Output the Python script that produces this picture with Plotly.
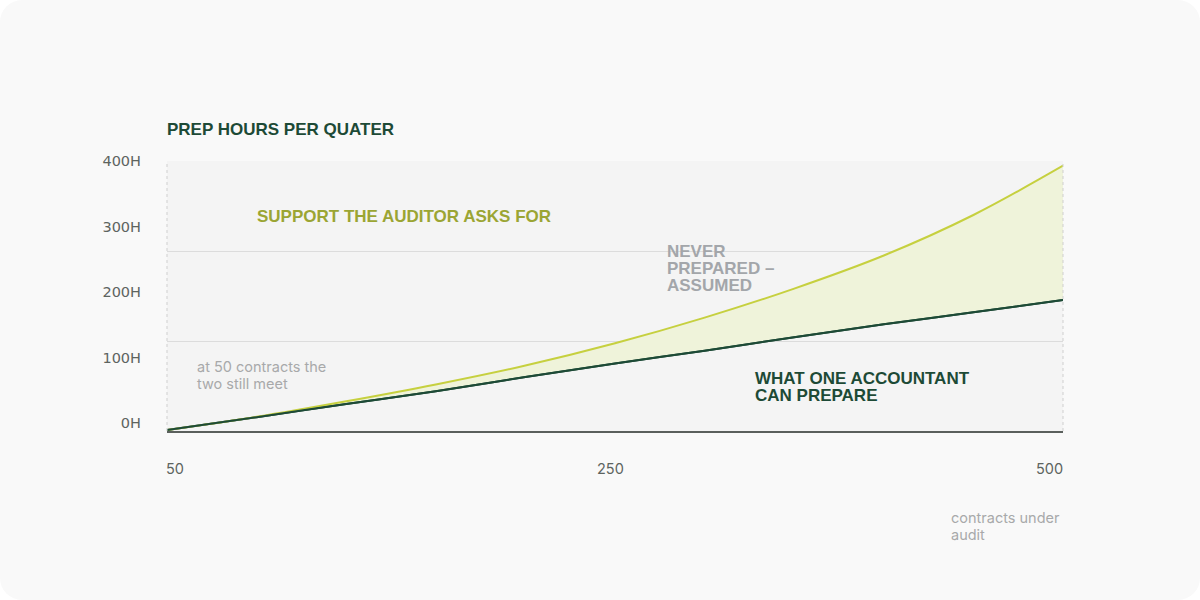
import plotly.graph_objects as go

# x positions are evenly spaced steps across the contract range
steps = list(range(11))
contract_ticks = {0: "50", 5: "250", 10: "500"}

# hours per quarter
auditor_asks = [1.5, 21, 44, 69, 97, 130, 168, 211, 260, 320, 393]
one_accountant = [1.5, 20.5, 40, 59, 80, 100, 119, 139, 158, 176, 194]

hour_ticks = [0, 100, 200, 300, 400]

GREEN = "#1d4a36"
YELLOW = "#c6d03f"
OLIVE = "#9ba533"
GREY = "#a3a6aa"
SOFT = "#a8a9aa"
FONT = "Inter"
BOLD = "Liberation Sans"

fig = go.Figure()

fig.add_trace(go.Scatter(x=steps, y=one_accountant, mode="lines",
                         line=dict(color=GREEN, width=2, shape="spline"),
                         hoverinfo="skip"))
fig.add_trace(go.Scatter(x=steps, y=auditor_asks, mode="lines", fill="tonexty",
                         fillcolor="#eff3da",
                         line=dict(color=YELLOW, width=2, shape="spline"),
                         hoverinfo="skip"))
# green line again so it sits over the fill
fig.add_trace(go.Scatter(x=steps, y=one_accountant, mode="lines",
                         line=dict(color=GREEN, width=2, shape="spline"),
                         hoverinfo="skip"))

# tick labels live on an overlay axis so they can sit apart from the grid
fig.add_trace(go.Scatter(x=steps, y=one_accountant, yaxis="y2", mode="lines",
                         line=dict(width=0), hoverinfo="skip", showlegend=False))

fig.update_layout(
    width=1200, height=600,
    margin=dict(l=167, r=137, t=161, b=169),
    paper_bgcolor="#f9f9f9",
    plot_bgcolor="#f4f4f4",
    showlegend=False,
    xaxis=dict(range=[steps[0], steps[-1]], showgrid=False, zeroline=False,
               showticklabels=False, ticks="", showline=True,
               linecolor="#5b605d", linewidth=1.5),
    yaxis=dict(range=[0, hour_ticks[-1]],
               tickvals=[hour_ticks[-1] * k / 3 for k in range(4)],
               showticklabels=False, ticks="", gridcolor="#dcdcdc",
               gridwidth=1, zeroline=False),
    yaxis2=dict(overlaying="y", side="left", range=[-12.2, hour_ticks[-1]],
                tickvals=hour_ticks, ticktext=[f"{v}H" for v in hour_ticks],
                showgrid=False, zeroline=False, ticks="", ticklabelstandoff=25,
                tickfont=dict(family="DejaVu Sans", size=14.5, color="#5d6460")),
)

# dotted edges of the plot area
for xe in (0, 1):
    fig.add_shape(type="line", xref="paper", yref="paper", x0=xe, x1=xe,
                  y0=0, y1=1, line=dict(color="#cfcfcf", width=1, dash="dot"))

# x tick labels
for i, (step, label) in enumerate(contract_ticks.items()):
    anchor = ["left", "center", "right"][i]
    fig.add_annotation(x=step, y=0, xref="x", yref="paper", text=label,
                       showarrow=False, xanchor=anchor, yanchor="middle",
                       yshift=-37, xshift=[-3, -5, 2][i],
                       font=dict(family=FONT, size=14.5, color="#5d6460"))


def note(x, y, lines, color, size=17, bold=True, gap=17):
    # one annotation per line to keep the tight line spacing
    for k, line in enumerate(lines):
        fig.add_annotation(x=x, y=y, xref="paper", yref="paper", text=line,
                           showarrow=False, xanchor="left", yanchor="middle",
                           yshift=-k * gap, xshift=-2,
                           font=dict(family=BOLD if bold else FONT, size=size,
                                     color=color,
                                     weight="bold" if bold else "normal"))


note(0, 1.115, ["PREP HOURS PER QUATER"], GREEN)
note(0.1004, 0.796, ["SUPPORT THE AUDITOR ASKS FOR"], OLIVE)
note(0.558, 0.663, ["NEVER", "PREPARED –", "ASSUMED"], GREY)
note(0.656, 0.196, ["WHAT ONE ACCOUNTANT", "CAN PREPARE"], GREEN)
note(0.0335, 0.2407, ["at 50 contracts the", "two still meet"], SOFT,
     size=14.5, bold=False)
note(0.875, -0.322, ["contracts under", "audit"], SOFT, size=14.5, bold=False)

fig.write_html(
    "out.html",
    config={"displayModeBar": False},
    post_script="document.body.style.margin='0';"
                "var d=document.getElementById('{plot_id}');"
                "d.style.borderRadius='22px';d.style.overflow='hidden';",
)
